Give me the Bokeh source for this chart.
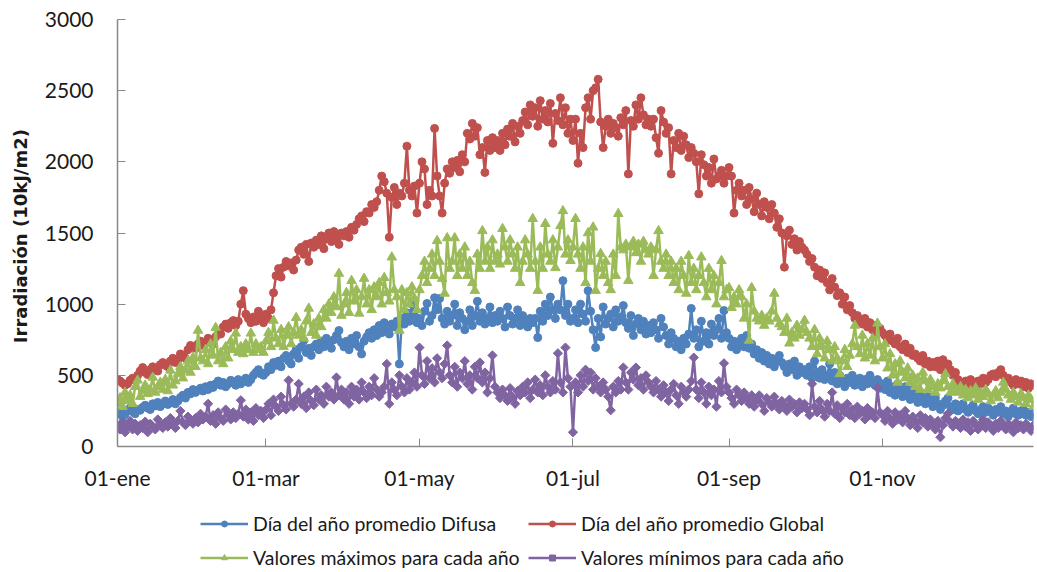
from bokeh.plotting import figure
from bokeh.models import FixedTicker, Legend, LegendItem, Range1d
from bokeh.layouts import column
from bokeh.embed import file_html
from bokeh.resources import INLINE

# ---------------- data ----------------
month_days = [31, 28, 31, 30, 31, 30, 31, 31, 30, 31, 30, 31]
tick_months = [0, 2, 4, 6, 8, 10]
tick_labels = ["01-ene", "01-mar", "01-may", "01-jul", "01-sep", "01-nov"]
y_ticks = [0, 500, 1000, 1500, 2000, 2500, 3000]
series_names = [
    "Día del año promedio Difusa",
    "Día del año promedio Global",
    "Valores máximos para cada año",
    "Valores mínimos para cada año",
]

difusa = [
    240,230,210,225,250,270,245,230,260,255,275,290,270,260,300,285,310,280,300,320,295,310,330,300,320,345,360,340,380,370,400,
    380,395,410,390,420,400,430,415,440,460,430,450,420,440,465,450,430,470,440,460,480,450,470,500,520,540,510,500,
    520,560,540,590,570,600,560,620,640,600,580,650,680,620,700,745,660,690,640,700,720,680,740,700,760,720,690,750,780,815,730,
    700,740,680,760,720,780,700,650,740,770,800,760,820,780,850,800,870,830,790,860,840,880,580,900,860,940,880,1000,920,870,
    900,850,950,1005,880,920,1045,960,1040,900,860,950,880,920,1000,850,940,900,820,880,960,850,920,1020,880,940,860,900,980,870,920,
    880,950,900,840,980,920,860,900,960,850,920,880,840,900,870,900,765,950,880,1000,920,1050,960,900,1000,960,1165,920,1000,880,
    900,960,870,1000,930,880,1095,950,820,695,900,770,980,860,900,930,840,960,880,910,990,870,830,920,780,860,900,820,880,790,850,
    800,870,820,760,900,840,780,720,800,760,700,740,680,760,720,790,970,760,820,700,880,740,800,720,860,780,820,900,760,955,800,
    760,700,740,680,720,760,700,780,690,720,650,680,620,660,600,640,580,620,560,600,640,590,560,520,580,540,600,500,560,520,
    540,500,560,480,600,520,480,540,470,500,580,460,520,440,500,470,420,480,450,500,430,460,480,420,470,440,500,450,430,470,410,
    440,400,460,380,420,360,440,400,350,420,380,330,400,360,310,380,340,300,350,320,280,340,300,260,290,320,340,280,260,300,
    250,280,300,260,240,270,290,250,230,260,280,240,270,250,220,260,240,280,230,250,210,240,270,230,220,250,260,220,240,210,230,
]

global_rad = [
    470,460,445,430,440,465,480,470,500,530,555,520,505,540,560,545,530,575,590,570,560,600,620,590,610,650,640,620,680,710,700,
    690,720,740,710,730,760,750,720,770,800,790,840,860,830,870,885,850,880,1000,1095,930,900,870,910,880,950,900,870,
    930,900,960,1080,1200,1250,1190,1260,1300,1270,1290,1240,1310,1380,1400,1350,1420,1300,1430,1400,1450,1420,1480,1390,1460,1500,1440,1510,1470,1420,1500,
    1480,1510,1470,1540,1520,1560,1600,1620,1580,1650,1640,1700,1680,1720,1800,1900,1860,1780,1470,1750,1820,1700,1780,1760,1850,2110,1800,1760,1830,1640,
    1850,2000,1950,1700,1800,1760,2235,1900,1760,1640,1850,1950,1920,2000,1960,2010,1930,2050,2000,2200,2160,2270,2180,2240,2050,2100,1925,2150,2080,2170,2100,
    2150,2080,2200,2120,2230,2180,2270,2140,2250,2200,2290,2350,2260,2400,2320,2380,2250,2430,2300,2360,2280,2410,2130,2340,2290,2450,2260,2380,2200,2300,
    2150,2300,1990,2200,2100,2380,2450,2300,2500,2520,2580,2280,2100,2250,2300,2200,2270,2240,2180,2310,2260,2360,1915,2290,2250,2400,2300,2450,2330,2260,2300,
    2250,2300,2170,2060,2360,2280,2200,2240,1915,2150,2100,2200,2080,2180,2120,2030,2100,2060,2000,1775,2050,1980,1900,1960,1850,2020,1880,1900,1940,1850,1900,
    1960,1900,1640,1800,1850,1760,1800,1700,1820,1740,1650,1780,1700,1620,1720,1680,1600,1700,1640,1540,1600,1500,1260,1480,1520,1420,1460,1380,1440,1400,
    1380,1350,1300,1320,1260,1200,1240,1180,1220,1150,1100,1180,1120,1060,1080,1000,1050,960,990,940,900,920,880,860,900,840,870,820,850,800,830,
    800,780,750,790,740,720,760,700,680,720,660,690,640,650,620,600,640,580,600,560,590,560,600,540,610,520,580,540,500,520,
    470,450,430,460,440,470,450,420,460,440,480,450,470,500,510,490,520,540,500,470,480,450,430,470,440,460,420,450,410,440,430,
]

maximos = [
    300,340,280,380,320,360,300,420,465,350,390,430,370,400,485,380,420,450,400,470,390,535,430,460,510,560,480,540,600,520,625,
    560,815,620,600,680,580,720,640,835,600,660,580,700,620,740,680,795,660,700,650,720,680,795,660,720,680,700,660,
    740,800,700,885,760,720,820,700,780,840,720,800,905,780,820,760,880,970,800,860,780,900,840,960,900,1000,940,1050,980,1215,920,
    1000,1080,940,1165,1020,1100,935,1050,1180,1000,1100,960,1120,1050,1150,1000,1185,1080,1020,1330,1100,1050,815,1100,960,1080,1000,1120,1040,960,
    1100,1200,1300,1150,1250,1350,1200,1445,1300,1180,1075,1465,1250,1300,1465,1200,1350,1250,1400,1200,1300,1150,1095,1350,1250,1515,1300,1400,1250,1450,1300,
    1350,1280,1530,1400,1300,1450,1350,1250,1400,1150,1300,1450,1350,1250,1600,1300,1095,1400,1250,1565,1350,1300,1450,1255,1400,1550,1655,1350,1450,1305,
    1400,1600,1350,1250,1400,1150,1500,1300,1540,1095,1250,1355,1200,1300,1150,1100,1350,1200,1635,1400,1380,1420,1165,1400,1440,1360,1420,1300,1440,1380,1350,
    1400,1200,1380,1515,1300,1250,1350,1200,1300,1150,1250,1100,1300,1200,1075,1340,1150,1250,1100,1200,1330,1150,1050,1250,1100,1200,1000,1150,1305,1050,1100,
    1115,975,1050,1000,1100,1050,900,1000,745,1115,950,900,880,920,850,900,880,950,1075,900,860,840,800,900,725,800,760,850,780,820,
    885,800,760,700,820,650,760,700,620,740,680,600,700,620,510,600,680,560,640,720,850,700,650,780,620,720,640,760,600,865,700,
    620,720,550,650,500,580,450,600,520,480,550,450,500,420,480,400,520,460,400,470,420,380,440,410,460,510,420,380,440,400,
    380,420,360,400,340,390,360,410,330,380,350,400,370,320,360,390,340,380,450,400,360,330,380,350,310,370,340,300,360,330,280,
]

minimos = [
    150,120,170,100,140,180,120,160,110,150,130,175,100,160,140,120,190,150,130,170,140,200,160,130,180,250,170,150,210,180,160,
    200,170,230,190,210,300,180,220,160,240,200,180,260,220,190,240,200,230,325,210,260,190,240,180,270,220,250,200,
    260,300,220,330,280,250,350,290,260,465,300,280,330,440,300,350,270,380,320,290,400,330,360,300,420,350,380,330,485,360,400,
    330,380,300,420,350,400,330,450,380,340,420,360,480,400,350,380,420,580,300,450,400,360,500,420,380,480,400,450,520,420,
    695,500,440,600,480,550,450,620,520,480,580,710,500,450,560,420,520,480,600,440,500,400,560,480,590,450,520,380,480,640,420,
    380,340,400,360,320,410,350,300,390,360,420,380,450,340,400,470,380,430,360,500,420,380,460,400,655,450,380,695,480,420,
    100,450,380,500,420,540,460,520,400,480,420,380,450,400,350,255,420,380,460,400,555,450,400,520,470,555,430,480,400,500,450,
    420,380,460,400,350,430,380,320,400,440,360,300,420,380,350,400,460,625,400,340,450,380,300,420,360,400,280,460,380,585,420,
    380,340,300,400,360,320,380,340,300,360,280,330,360,300,250,340,310,280,350,300,260,320,290,250,330,280,300,240,310,270,
    300,260,220,440,280,240,320,260,210,300,250,380,230,290,200,270,240,300,220,260,200,280,230,250,190,270,220,240,200,410,240,
    220,180,250,200,160,240,190,220,170,250,200,150,210,180,130,220,170,200,140,190,160,120,180,65,150,200,230,170,140,180,
    160,130,190,140,170,110,180,150,120,160,190,130,170,140,110,160,130,180,150,120,160,140,100,170,130,150,120,160,140,110,150,
]

# ---------------- derived positions ----------------
month_start = [sum(month_days[:i]) for i in range(12)]
tick_pos = [month_start[m] for m in tick_months]

FONT = "Lato"
TEXT = "#1a1a1a"
AXIS = "#888888"
NAN = float("nan")

# ---------------- main chart ----------------
p = figure(width=1035, height=500, output_backend="svg", toolbar_location=None,
           title=None, x_range=Range1d(0, 364), y_range=Range1d(0, 3000),
           min_border_left=117, min_border_right=2, min_border_top=19,
           min_border_bottom=54)
p.outline_line_color = None
p.grid.visible = False

styles = [
    (difusa, "#4F81BD", "circle", 8, 0),
    (global_rad, "#C0504D", "circle", 8, 0),
    (maximos, "#9BBB59", "triangle", 9.5, 0),
    (minimos, "#8064A2", "square", 6.5, 0.785398),
]

for vals, color, marker, size, ang in styles:
    xs = list(range(len(vals)))
    p.line(xs, vals, line_color=color, line_width=2.5)
    p.scatter(xs, vals, marker=marker, size=size, angle=ang,
              fill_color=color, line_color=color)

p.xaxis.ticker = FixedTicker(ticks=tick_pos)
p.xaxis.major_label_overrides = {t: l for t, l in zip(tick_pos, tick_labels)}
p.yaxis.ticker = FixedTicker(ticks=y_ticks)
for ax in (p.xaxis, p.yaxis):
    ax.axis_line_color = AXIS
    ax.axis_line_width = 1.5
    ax.major_tick_line_color = AXIS
    ax.major_tick_in = 8
    ax.major_tick_out = 0
    ax.minor_tick_line_color = None
    ax.major_label_text_font = FONT
    ax.major_label_text_font_size = "21px"
    ax.major_label_text_color = TEXT
p.xaxis.major_label_standoff = 18
p.yaxis.major_label_standoff = 24
p.yaxis.axis_label = "Irradiación  (10kJ/m2)"
p.yaxis.axis_label_text_font = "DejaVu Sans"
p.yaxis.axis_label_text_font_style = "bold"
p.yaxis.axis_label_text_font_size = "18px"
p.yaxis.axis_label_text_color = TEXT
p.yaxis.axis_label_standoff = 11

# ---------------- legend strip (own small figure) ----------------
lg = figure(width=1035, height=70, output_backend="svg", toolbar_location=None,
            title=None, x_axis_type=None, y_axis_type=None,
            x_range=Range1d(0, 1), y_range=Range1d(0, 1),
            min_border_left=0, min_border_right=0, min_border_top=0,
            min_border_bottom=0)
lg.outline_line_color = None
lg.grid.visible = False

items = []
for name, (vals, color, marker, size, ang) in zip(series_names, styles):
    lr = lg.line([NAN], [NAN], line_color=color, line_width=2.5)
    sr = lg.scatter([NAN], [NAN], marker=marker, size=size, angle=ang,
                    fill_color=color, line_color=color)
    items.append(LegendItem(label=name, renderers=[lr, sr]))

legend = Legend(items=items, location=(83, 0), orientation="horizontal",
                ncols=2, glyph_width=48, glyph_height=15, label_standoff=5,
                spacing=8, padding=0, margin=0, border_line_color=None,
                background_fill_alpha=0, label_text_font=FONT,
                label_text_font_size="19.5px", label_text_color=TEXT,
                label_height=26, label_width=267)
lg.add_layout(legend)

layout = column(p, lg, spacing=0)
open("out.html", "w").write(file_html(layout, INLINE))
